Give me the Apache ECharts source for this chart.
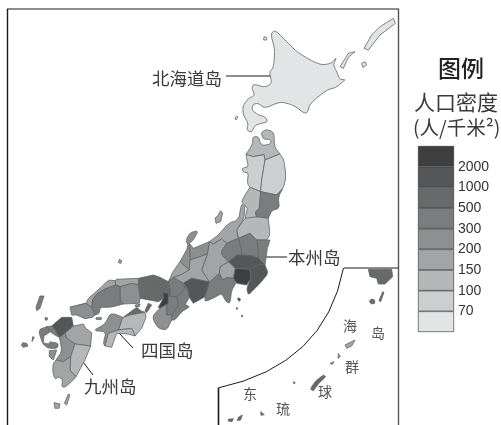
<!DOCTYPE html>
<html><head><meta charset="utf-8">
<style>html,body{margin:0;padding:0;background:#fff}#c{width:501px;height:425px}</style>
<script src="https://cdn.jsdelivr.net/npm/echarts@6/dist/echarts.min.js"></script>
</head><body><div id="c"></div>
<script>
// ---- Data -----------------------------------------------------------
const prefectures = ['北海道','青森','秋田','岩手','山形','宫城','福岛','新潟','茨城','栃木','群马','埼玉','东京神奈川','千叶','山梨','静冈','长野','富山','石川','福井','岐阜','爱知','三重','滋贺','京都','大阪','兵库','奈良','和歌山','鸟取','冈山','岛根','广岛','山口','香川','德岛','爱媛','高知','福冈','佐贺','长崎','大分','熊本','宫崎','鹿儿岛','冲绳'];
const densities   = [ 65, 140, 90, 90, 120, 320, 130, 180, 470, 310, 320, 1700, 4000, 1100, 190, 480, 160, 260, 280, 190, 190, 1400, 320, 340, 570, 4600, 650, 380, 230, 170, 270, 160, 330, 250, 540, 120, 250, 120, 1000, 350, 360, 190, 250, 120, 190, 600];
const legendTicks = ['2000','1000','500','300','200','150','100','70'];
const legendColors = ['#3f3f40','#555658','#68696b','#7b7c7e','#8e8f91','#a3a4a6','#b6b7b9','#cdced0','#e3e4e6'];
const thresholds  = [2000,1000,500,300,200,150,100,70];

// ---- Region outlines, traced in map sheets --------------------
const A=[140,0], B=[20,220], C=[150,190], D=[210,260];
const outlines = {
'北海道':[[A,[405,90,392,102,405,150,400,205,388,215,396,250,375,262,340,252,335,265,345,285,322,298,308,320,310,345,325,370,320,390,335,398,345,375,385,365,375,350,355,345,335,330,340,312,355,310,375,325,420,305,460,315,500,345,510,310,560,270,590,262,620,235,600,240,590,215,580,195,590,170,575,190,545,195,510,180,470,155,435,120]],
 [A,[760,55,766,70,720,105,685,150,672,145,695,105,720,80]],[A,[645,155,625,172,610,205,600,200,625,160]],[A,[675,185,680,195,668,202,665,190]],[A,[372,110,380,112,380,120,371,120]],[A,[290,348,294,352,288,360,285,354]]],
'青森':[[A,[338,410,356,410,362,432,370,436,393,432,392,418,370,418,363,398,378,388,402,396,403,440,420,462,400,470,375,480,372,464,340,470,318,463,330,445,338,430]]],
'秋田':[[A,[318,463,340,470,372,464,375,480,370,510,365,540,362,575,330,562,322,550,325,518,310,517,306,505,325,500,320,475]]],
'岩手':[[A,[375,480,400,470,420,462,432,480,438,530,430,565,410,585,362,575,365,540,370,510]]],
'山形':[[A,[330,562,362,575,358,625,345,660,315,655,322,625,305,605,315,585]]],
'宫城':[[A,[362,575,410,585,432,562,415,590,418,625,395,632,385,655,350,652,345,636,358,625]]],
'福岛':[[C,[285,85,320,80,355,85,360,135,350,150,320,150,300,130,265,145,260,120]]],
'新潟':[[C,[275,40,285,50,282,85,260,120,265,145,230,160,215,147,190,162,178,155,205,135,235,100,265,90]],[C,[212,62,218,70,212,95,198,100,195,85,205,75]]],
'茨城':[[C,[320,150,350,150,360,150,352,175,345,225,325,205,325,185]]],
'栃木':[[C,[265,145,300,130,320,150,325,185,325,205,305,197,275,195,272,170]]],
'群马':[[C,[215,182,230,160,265,145,272,170,275,195,262,195,235,215,215,195]]],
'埼玉':[[C,[235,215,262,195,275,195,305,197,325,205,345,225,330,222,300,238,255,235]]],
'东京神奈川':[[C,[255,235,300,238,303,265,290,285,260,280,250,265]],[C,[265,323,272,328,268,334,263,328]],[C,[260,352,264,356,259,358]],[C,[275,375,279,378,275,381]]],
'千叶':[[C,[300,238,330,222,345,225,355,250,330,280,310,300,295,315,290,295,303,265]]],
'山梨':[[C,[210,230,235,215,255,235,250,265,230,263,218,270,208,250]]],
'静冈':[[C,[178,276,208,250,218,270,230,263,250,265,258,280,245,300,240,340,228,335,215,310,195,322,165,335,165,320]]],
'长野':[[C,[178,155,190,162,215,147,230,160,215,182,215,195,235,215,210,230,208,250,178,276,155,240,172,192]]],
'富山':[[C,[118,160,130,175,178,155,172,192,120,210]]],
'石川':[[C,[108,150,120,128,145,122,130,150,118,160,120,210,118,240,90,215,115,170]]],
'福井':[[C,[90,215,118,240,92,255,70,262,55,275,68,247]]],
'岐阜':[[C,[92,255,118,240,120,210,172,192,155,240,178,276,125,265,100,280,70,262]]],
'爱知':[[C,[100,280,125,265,178,276,165,320,130,340,118,322,112,295]]],
'三重':[[C,[80,320,105,295,100,280,112,295,118,322,105,345,120,350,95,365,75,390,65,390,65,375,85,345]]],
'滋贺':[[C,[55,275,70,262,100,280,105,295,80,320,60,320,60,295]]],
'京都':[[C,[10,255,30,262,55,275,60,295,60,320,55,310,38,308,20,280]]],
'大阪':[[C,[38,308,55,310,55,340,30,355,25,352,40,325]]],
'兵库':[[C,[-35,265,10,255,20,280,38,308,40,325,25,335,-30,325,-35,285]],[C,[-5,340,5,345,-10,368,-15,362]]],
'奈良':[[C,[55,310,60,320,80,320,85,345,65,375,50,375,50,345,55,340]]],
'和歌山':[[C,[10,375,30,355,55,340,50,345,50,375,65,375,65,390,50,420,25,415,10,390]]],
'鸟取':[[B,[285,182,290,178,355,175,355,195,335,190,300,200,287,195]]],
'冈山':[[B,[300,200,335,190,355,195,360,235,358,250,310,252,300,240]],[B,[345,255,360,253,358,260,347,260]]],
'岛根':[[B,[150,262,198,250,205,235,240,205,265,180,285,182,287,195,255,207,230,222,218,240,215,262,198,250]],[B,[298,118,305,122,303,130,295,128]]],
'广岛':[[B,[218,240,230,222,255,207,287,195,300,200,300,240,310,252,272,262,240,262,238,280,225,285,215,262]]],
'山口':[[B,[150,262,198,250,215,262,225,285,218,292,195,296,170,285,155,285]],[B,[228,293,245,293,243,299,228,298]]],
'香川':[[B,[312,290,350,262,362,272,375,277,330,285]]],
'德岛':[[B,[308,292,330,285,375,277,378,292,365,325,345,348,335,325,295,330]]],
'爱媛':[[B,[220,332,255,312,270,282,285,282,308,292,295,330,265,340,255,378,250,370,258,335]]],
'高知':[[B,[255,378,265,340,295,330,335,325,345,348,325,342,290,340,275,382]]],
'福冈':[[B,[95,318,125,292,155,292,160,318,135,340,118,352,105,330]]],
'佐贺':[[B,[80,320,95,318,105,330,118,352,105,345,90,335]]],
'长崎':[[B,[55,330,80,320,90,335,78,345,72,345,70,370,90,372,88,365,115,370,112,385,85,385,68,372]],[B,[60,228,72,228,60,265,50,272,48,262]],[B,[76,292,83,294,81,301,75,299]],[B,[8,368,20,370,24,378,10,382,4,376]],[B,[38,350,43,352,36,365,33,362]]],
'大分':[[B,[135,340,160,318,190,312,197,325,215,338,212,378,165,372,140,355]]],
'熊本':[[B,[118,352,135,340,140,355,165,372,152,410,130,425,108,420,125,395,122,370]],[B,[88,392,110,390,100,420,88,410]]],
'宫崎':[[B,[165,372,212,378,195,420,168,470,150,450,152,410]]],
'鹿儿岛':[[B,[100,430,108,420,130,425,152,410,150,450,168,470,160,480,135,502,125,500,128,480,115,470,105,478,98,455]],[B,[102,548,120,552,117,565,105,565]],[B,[145,522,150,525,140,555,133,550]],[D,[405,255,435,240,425,258,410,265]],[D,[385,280,391,290,384,295]],[D,[360,310,372,305,366,314]]],
'冲绳':[[D,[305,380,318,362,340,345,347,350,325,372,310,392,302,388]],[D,[250,365,256,368,252,372]],[D,[55,478,70,476,66,485,55,483]],[D,[85,472,97,465,92,480,82,482]],[D,[152,455,163,464,153,466]],[D,[475,28,545,28,548,50,525,72,505,72,500,55,480,50]],[D,[484,117,494,120,494,130,484,132,478,124]],[D,[518,95,522,97,512,125,507,122]]]
};

// Outline rounding: corners only one region uses are cut; shared corners stay; islets stay whole
const uses={};
const key=(s,x,y)=>Math.round((s[0]+x/3)*10)+','+Math.round((s[1]+y/3)*10);
prefectures.forEach(n=>outlines[n].forEach(p=>{
  const seen=new Set();
  for(let i=0;i<p[1].length;i+=2) seen.add(key(p[0],p[1][i],p[1][i+1]));
  seen.forEach(k=>uses[k]=(uses[k]||0)+1);
}));
function ring(sheet, flat){
  let pts=[];
  for(let i=0;i<flat.length;i+=2) pts.push({x:sheet[0]+flat[i]/3,y:sheet[1]+flat[i+1]/3,fix:uses[key(sheet,flat[i],flat[i+1])]>1});
  const n=flat.length/2, rounds = n<=8 ? 0 : n<=16 ? 1 : 2;
  for(let it=0;it<rounds;it++){
    const out=[];
    pts.forEach((p,i)=>{
      if(p.fix){out.push(p);return;}
      const a=pts[(i-1+pts.length)%pts.length], b=pts[(i+1)%pts.length];
      out.push({x:p.x*.8+a.x*.2,y:p.y*.8+a.y*.2},{x:p.x*.8+b.x*.2,y:p.y*.8+b.y*.2});
    });
    pts=out;
  }
  const r=pts.map(p=>[p.x,p.y]); r.push(r[0]);
  return r;
}
const geoJson={type:'FeatureCollection',features:prefectures.map(name=>({
  type:'Feature',properties:{name},
  geometry:{type:'MultiPolygon',coordinates:outlines[name].map(p=>[ring(p[0],p[1])])}
}))};

const chart=echarts.init(document.getElementById('c'),null,{renderer:'canvas'});
echarts.registerMap('japan',geoJson);

const CJK='"Noto Sans CJK SC","Noto Sans",sans-serif';
function fixColor(v){ for(let i=0;i<thresholds.length;i++) if(v>=thresholds[i]) return legendColors[i]; return legendColors[8]; }

const txt=(x,y,text,size,extra)=>({type:'text',x,y,silent:true,style:Object.assign({text,font:`${size}px ${CJK}`,fill:'#3a3a3a',verticalAlign:'middle',align:'left'},extra||{})});
const ln=(x1,y1,x2,y2,w,c)=>({type:'line',silent:true,shape:{x1,y1,x2,y2},style:{stroke:c||'#1a1a1a',lineWidth:w||1}});

chart.setOption({
  animation:false,
  backgroundColor:'#fff',
  grid:{left:418,top:146,width:36,height:186},
  xAxis:{type:'category',data:[''],show:false},
  yAxis:{type:'value',min:0,max:9,interval:1,inverse:true,position:'right',splitLine:{show:false},axisLine:{show:false},axisTick:{show:false},
    axisLabel:{margin:4,color:'#333',fontSize:14,fontFamily:'Liberation Sans',formatter:(v)=>legendTicks[v-1]||''}},
  series:[
    {type:'map',map:'japan',projection:{project:p=>p,unproject:p=>p},left:0,top:0,width:501,height:425,
     boundingCoords:[[0,0],[501,425]],roam:false,silent:true,selectedMode:false,
     label:{show:false},emphasis:{disabled:true},
     itemStyle:{borderColor:'#636466',borderWidth:0.8},
     data:prefectures.map((name,i)=>({name,value:densities[i],itemStyle:{areaColor:fixColor(densities[i])}}))},
    ...legendColors.map(color=>({type:'bar',stack:'k',barWidth:'100%',silent:true,data:[1],itemStyle:{color,borderColor:'#2e2e2e',borderWidth:0.6}}))
  ],
  graphic:{elements:[
    ln(7,9,399,9,1),ln(398.5,9,398.5,268,1.4,'#555'),ln(7.5,9,7.5,425,1.4),
    ln(344,268,398,268,1),ln(398.5,268,398.5,425,1.4,'#555'),ln(218.5,388,218.5,425,1.6),
    {type:'bezierCurve',silent:true,shape:{x1:343.5,y1:268,cpx1:325,cpy1:365,x2:218,y2:388},style:{fill:null,stroke:'#1a1a1a',lineWidth:1}},
    ln(226,76,276,76,1),ln(258,257,287,257,1),ln(118,332,133,348,1),ln(80,358,93,375,1),
    txt(152,78,'北海道岛',17.5),txt(288,257,'本州岛',17.5),txt(141,350,'四国岛',17.5),txt(84,386,'九州岛',17.5),
    txt(438,68,'图例',23,{font:`500 23px ${CJK}`,fill:'#222'}),
    txt(414,102,'人口密度',21),
    txt(413,128,'(人/千米²)',19.5),
    txt(343,326,'海',14,{fill:'#555'}),txt(371,333,'岛',14,{fill:'#555'}),txt(345,367,'群',14,{fill:'#555'}),
    txt(318,392,'球',14,{fill:'#555'}),txt(276,409,'琉',14,{fill:'#555'}),txt(243,394,'东',14,{fill:'#555'})
  ]}
});
</script></body></html>
